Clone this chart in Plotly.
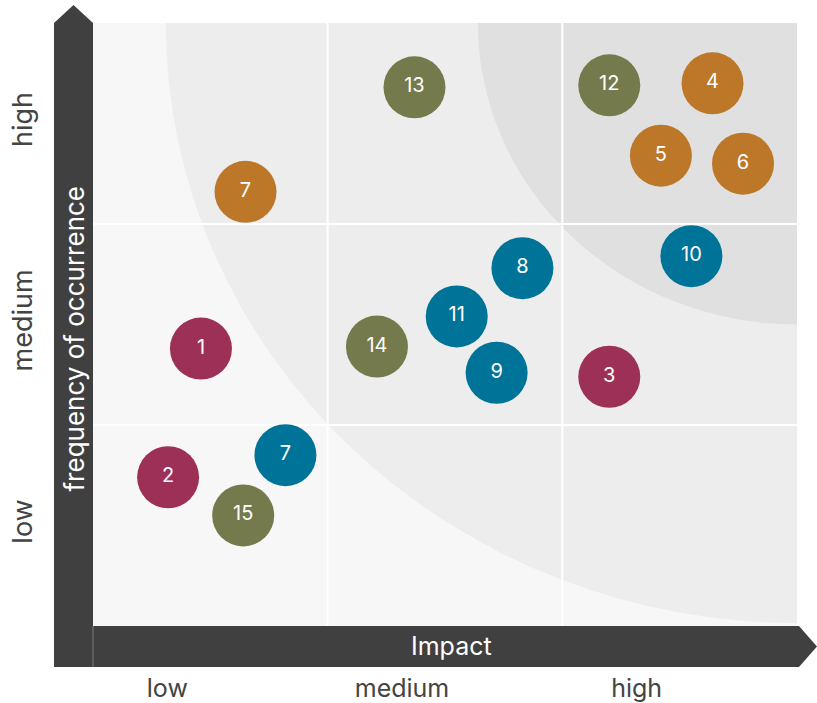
import plotly.graph_objects as go

# risk matrix data: impact (x) and frequency of occurrence (y), both on a 0-3 scale
risk_ids = ["13", "12", "4", "5", "6", "7", "10", "8", "11", "14", "1", "9", "3", "7", "2", "15"]
impact = [1.37, 2.20, 2.64, 2.42, 2.77, 0.65, 2.55, 1.83, 1.55, 1.21, 0.46, 1.72, 2.20, 0.82, 0.32, 0.64]
frequency = [2.68, 2.69, 2.70, 2.34, 2.30, 2.16, 1.84, 1.78, 1.54, 1.39, 1.38, 1.26, 1.24, 0.85, 0.74, 0.55]
group = ["olive", "olive", "orange", "orange", "orange", "orange", "blue", "blue", "blue",
         "olive", "red", "blue", "red", "blue", "red", "olive"]

level_labels = ["low", "medium", "high"]
level_pos = [0.5, 1.5, 2.5]

# quarter-ellipse zones around the high/high corner (radii in data units)
zone_radii = [(2.69, 2.985), (1.36, 1.50)]
zone_colors = ["#ededed", "#e0e0e0"]

group_colors = {"red": "#9d3057", "olive": "#747a4c", "orange": "#bc7729", "blue": "#007398"}

FONT = "Inter"
W, H = 817, 703
L, R, T, B = 93, 20, 23, 77
pw, ph = W - L - R, H - T - B


def px(x, y):
    """Pixel position -> paper coordinates."""
    return (x - L) / pw, (H - B - y) / ph


def poly(points):
    return "M " + " L ".join(f"{a:.4f},{b:.4f}" for a, b in (px(*p) for p in points)) + " Z"


fig = go.Figure()

for g, color in group_colors.items():
    idx = [i for i, gg in enumerate(group) if gg == g]
    fig.add_trace(
        go.Scatter(
            x=[impact[i] for i in idx],
            y=[frequency[i] for i in idx],
            text=[risk_ids[i] for i in idx],
            mode="markers+text",
            marker=dict(size=62, color=color, line=dict(width=0)),
            textposition="middle center",
            textfont=dict(family=FONT, size=20, color="white"),
            hoverinfo="skip",
            showlegend=False,
        )
    )

shapes = []
for (rx, ry), c in zip(zone_radii, zone_colors):
    shapes.append(dict(type="circle", xref="x", yref="y", x0=3 - rx, x1=3 + rx, y0=3 - ry, y1=3 + ry,
                       fillcolor=c, line=dict(width=0), layer="below"))

# white grid lines between the levels
for v in [1, 2]:
    shapes.append(dict(type="line", xref="x", yref="y", x0=v, x1=v, y0=0, y1=3,
                       line=dict(color="white", width=2), layer="below"))
    shapes.append(dict(type="line", xref="x", yref="y", x0=0, x1=3, y0=v, y1=v,
                       line=dict(color="white", width=2), layer="below"))

dark = "#404040"
# vertical arrow bar
shapes.append(dict(type="path", xref="paper", yref="paper", layer="above",
                   path=poly([(54, 667), (54, 23), (73.5, 5), (93, 23), (93, 667)]),
                   fillcolor=dark, line=dict(width=0)))
# horizontal arrow bar
shapes.append(dict(type="path", xref="paper", yref="paper", layer="above",
                   path=poly([(93, 626), (799, 626), (817, 646.5), (799, 667), (93, 667)]),
                   fillcolor=dark, line=dict(width=0)))
# thin separator between the two bars
x0, y0 = px(93, 626)
x1, y1 = px(93, 667)
shapes.append(dict(type="line", xref="paper", yref="paper", x0=x0, y0=y0, x1=x1, y1=y1,
                   line=dict(color="#7a7a7a", width=1)))

ax, ay = px(451, 646)
bx, by = px(73.5, 339)
annotations = [
    dict(text="Impact", x=ax, y=ay, xref="paper", yref="paper", showarrow=False,
         xanchor="center", yanchor="middle",
         font=dict(family=FONT, size=25, color="white")),
    dict(text="frequency of occurrence", x=bx, y=by, xref="paper", yref="paper", showarrow=False,
         xanchor="center", yanchor="middle", textangle=-90,
         font=dict(family=FONT, size=26, color="white")),
]

fig.update_layout(
    width=W,
    height=H,
    margin=dict(l=L, r=R, t=T, b=B),
    paper_bgcolor="white",
    plot_bgcolor="#f7f7f7",
    shapes=shapes,
    annotations=annotations,
    xaxis=dict(range=[0, 3], tickvals=level_pos, ticktext=level_labels, showgrid=False, automargin=False,
               zeroline=False, showline=False, ticks="", ticklabelshift=-43, ticklabelstandoff=45,
               tickfont=dict(family=FONT, size=25, color="#444444"), fixedrange=True),
    yaxis=dict(range=[0, 3], tickvals=level_pos, ticktext=level_labels, showgrid=False, automargin=False,
               zeroline=False, showline=False, ticks="", tickangle=-90, ticklabelstandoff=55,
               tickfont=dict(family=FONT, size=27, color="#444444"), fixedrange=True),
)

fig.write_html("out.html", config={"displayModeBar": False},
               post_script="document.body.style.margin='0';")
